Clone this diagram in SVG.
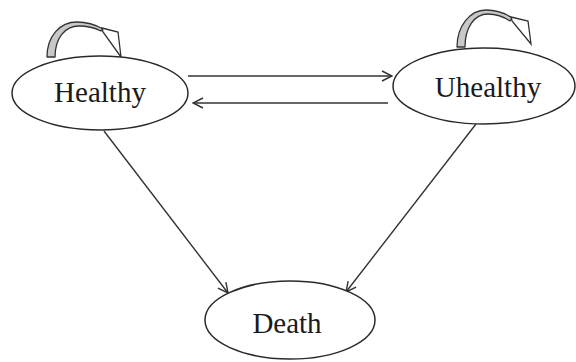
<svg xmlns="http://www.w3.org/2000/svg" width="576" height="362" viewBox="0 0 576 362">
<defs>
<style>
.node ellipse{fill:#fff;stroke:#2a2a2a;stroke-width:1.5}
.node text{font-family:"Liberation Serif","Times New Roman",serif;font-size:29px;fill:#1a1a1a;text-anchor:middle}
.edge{stroke:#333;stroke-width:1.4;fill:none}
.loop-body{fill:#c8c8c8;stroke:#333;stroke-width:1.3;stroke-linejoin:round}
.loop-head{fill:#fff;stroke:#333;stroke-width:1.3;stroke-linejoin:miter}
</style>
<marker id="open" viewBox="0 0 12 12" refX="11" refY="6" markerWidth="12" markerHeight="12" markerUnits="userSpaceOnUse" orient="auto">
<path d="M1 1 L11 6 L1 11" fill="none" stroke="#333" stroke-width="1.4"/>
</marker>
</defs>
<rect width="576" height="362" fill="#fff"/>
<g id="connectors">
<line class="edge" x1="188" y1="76" x2="392" y2="76" marker-end="url(#open)"/>
<line class="edge" x1="388" y1="103" x2="193" y2="103" marker-end="url(#open)"/>
<line class="edge" x1="104" y1="131" x2="228" y2="293" marker-end="url(#open)"/>
<line class="edge" x1="476" y1="124" x2="346" y2="292" marker-end="url(#open)"/>
<g id="loop-healthy">
<path class="loop-body" d="M47 57 C47 36 60 22 77 22 C88 22 96 25 103 29 L101 31 C95 28 87 26 79 26 C65 26 55 38 55 57 Z"/>
<path class="loop-head" d="M102 28 L118 32 L121 57 L103 32 Z"/>
</g>
<g id="loop-uhealthy">
<path class="loop-body" d="M457 47 C457 26 470 10 486 10 C497 10 505 13 512 18 L510 21 C504 17 496 14 488 14 C474 14 465 28 465 47 Z"/>
<path class="loop-head" d="M511 17 L528 21 L531 44 L512 21 Z"/>
</g>
</g>
<g id="healthy" class="node">
<ellipse cx="100" cy="93" rx="88" ry="37"/>
<text x="100" y="102">Healthy</text>
</g>
<g id="uhealthy" class="node">
<ellipse cx="484" cy="86" rx="91" ry="38"/>
<text x="488" y="97">Uhealthy</text>
</g>
<g id="death" class="node">
<ellipse cx="290" cy="320" rx="85" ry="39"/>
<text x="287" y="333">Death</text>
</g>
</svg>
